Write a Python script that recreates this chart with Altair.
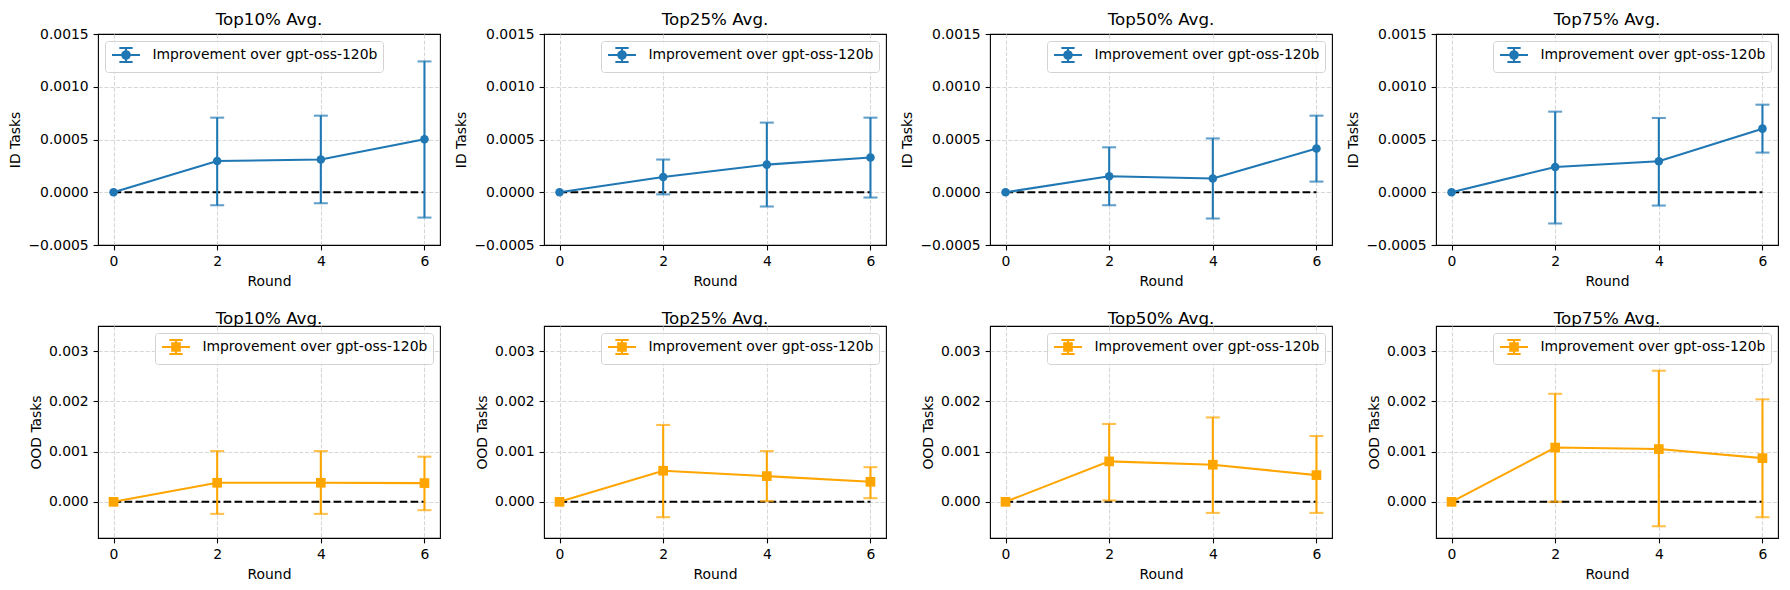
import altair as alt
import pandas as pd

rounds = [0, 2, 4, 6]
groups = ["Top10% Avg.", "Top25% Avg.", "Top50% Avg.", "Top75% Avg."]
series_label = "Improvement over gpt-oss-120b"

id_mean = [
    [0.0, 0.000296, 0.000310, 0.000502],
    [0.0, 0.000145, 0.000262, 0.000329],
    [0.0, 0.000152, 0.000130, 0.000414],
    [0.0, 0.000240, 0.000294, 0.000603],
]
id_lower = [
    [None, -0.000123, -0.000104, -0.000240],
    [None, -0.000020, -0.000135, -0.000050],
    [None, -0.000123, -0.000249, 0.000101],
    [None, -0.000296, -0.000126, 0.000376],
]
id_upper = [
    [None, 0.000707, 0.000726, 0.001240],
    [None, 0.000310, 0.000660, 0.000707],
    [None, 0.000426, 0.000510, 0.000726],
    [None, 0.000764, 0.000704, 0.000830],
]
ood_mean = [
    [0.0, 0.000379, 0.000379, 0.000373],
    [0.0, 0.000619, 0.000512, 0.000399],
    [0.0, 0.000805, 0.000739, 0.000532],
    [0.0, 0.001080, 0.001050, 0.000870],
]
ood_lower = [
    [None, -0.000240, -0.000240, -0.000166],
    [None, -0.000306, 0.000013, 0.000073],
    [None, 0.000027, -0.000220, -0.000220],
    [None, 0.000000, -0.000486, -0.000306],
]
ood_upper = [
    [None, 0.001010, 0.001010, 0.000898],
    [None, 0.001530, 0.001010, 0.000690],
    [None, 0.001550, 0.001680, 0.001310],
    [None, 0.002150, 0.002610, 0.002040],
]

id_ticks = [-0.0005, 0.0, 0.0005, 0.0010, 0.0015]
ood_ticks = [0.0, 0.001, 0.002, 0.003]
id_domain = [-0.0005, 0.0015]
ood_domain = [-0.00072, 0.0035]

BLUE = "#1f77b4"
ORANGE = "#ffa500"
FONT = "DejaVu Sans"

CIRCLE_PATH = ("M-2,0L2,0M0,-1L0,1M-0.95,-1L0.95,-1M-0.95,1L0.95,1"
               "M-0.54,0A0.54,0.54,0,1,1,0.54,0A0.54,0.54,0,1,1,-0.54,0Z")
SQUARE_PATH = ("M-2,0L2,0M0,-1L0,1M-0.95,-1L0.95,-1M-0.95,1L0.95,1"
               "M-0.54,-0.54L0.54,-0.54L0.54,0.54L-0.54,0.54Z")

EDGE_TEST = "abs(datum.value - ({lo})) < 1e-9 || abs(datum.value - ({hi})) < 1e-9"


def panel(title, mean, lo, hi, color, shape, size, ylabel, ydomain, yticks,
          yfmt, legend_orient, legend_path, height):
    df = pd.DataFrame({
        "round": rounds,
        "mean": mean,
        "lo": lo,
        "hi": hi,
        "zero": [0.0] * len(rounds),
        "series": [series_label] * len(rounds),
    })
    xs = alt.Scale(domain=[-0.3, 6.3], nice=False, zero=False)
    xa = alt.Axis(values=rounds, format="d", title="Round")
    ys = alt.Scale(domain=ydomain, nice=False, zero=False)
    ya = alt.Axis(values=yticks, format=yfmt, title=ylabel,
                  gridOpacity={"condition": {"test": EDGE_TEST.format(lo=ydomain[0], hi=ydomain[1]), "value": 0}, "value": 1})
    x = alt.X("round:Q", scale=xs, axis=xa)
    base = alt.Chart(df)
    zero = base.mark_line(color="black", strokeDash=[7.7, 3.3],
                          strokeWidth=2.08).encode(
        x=x, y=alt.Y("zero:Q", scale=ys, axis=ya))
    err = base.transform_filter("isValid(datum.lo)").mark_errorbar(
        ticks=True, size=14, thickness=2.08, color=color).encode(
        x=x, y=alt.Y("lo:Q", scale=ys, axis=ya), y2=alt.Y2("hi:Q"))
    line = base.mark_line(color=color, strokeWidth=2.08).encode(
        x=x, y=alt.Y("mean:Q", scale=ys, axis=ya))
    legend = alt.Legend(
        title=None, orient=legend_orient, offset=7, padding=5.5,
        symbolType=legend_path, symbolSize=196, symbolOffset=7,
        symbolStrokeWidth=2.08, symbolStrokeColor=color,
        symbolFillColor=color, symbolOpacity=1, labelOffset=17.9,
        labelFont=FONT, labelFontSize=13.9, labelColor="black",
        labelLimit=400, strokeColor="#d3d3d3",
        fillColor="rgba(255,255,255,0.8)", cornerRadius=3)
    pts = base.mark_point(filled=True, shape=shape, size=size,
                          opacity=1).encode(
        x=x, y=alt.Y("mean:Q", scale=ys, axis=ya),
        color=alt.Color("series:N",
                        scale=alt.Scale(domain=[series_label], range=[color]),
                        legend=legend))
    return alt.layer(zero, err, line, pts).properties(
        width=342, height=height,
        title=alt.TitleParams(title, font=FONT, fontSize=16.7,
                              fontWeight="normal", color="black",
                              offset=-1.5))


charts = []
for i, g in enumerate(groups):
    charts.append(panel(g, id_mean[i], id_lower[i], id_upper[i], BLUE,
                        "circle", 74, "ID Tasks", id_domain, id_ticks,
                        ".4f", "top-left" if i == 0 else "top-right",
                        CIRCLE_PATH, 211))
for i, g in enumerate(groups):
    charts.append(panel(g, ood_mean[i], ood_lower[i], ood_upper[i], ORANGE,
                        "square", 94, "OOD Tasks", ood_domain, ood_ticks,
                        ".3f", "top-right", SQUARE_PATH, 212))

chart = alt.concat(
    *charts, columns=4, spacing={"row": 81, "column": 104}, bounds="flush"
).resolve_scale(
    color="independent", x="independent", y="independent"
).resolve_legend(color="independent").properties(
    padding={"left": 0, "top": 3, "right": 0, "bottom": 0}
).configure_view(
    stroke="black", strokeWidth=1.1
).configure_axis(
    labelFont=FONT, labelFontSize=13.9, labelColor="black",
    titleFont=FONT, titleFontSize=13.9, titleFontWeight="normal",
    titleColor="black", domain=False, tickColor="black", tickWidth=1.1,
    tickSize=4.9, labelPadding=4.9, gridColor="#d7d7d7",
    gridDash=[4.1, 1.8], gridWidth=1.1
).configure_axisX(titlePadding=5.5).configure_axisY(titlePadding=5)

chart.save("out.html", embed_options={"renderer": "svg", "actions": False})
